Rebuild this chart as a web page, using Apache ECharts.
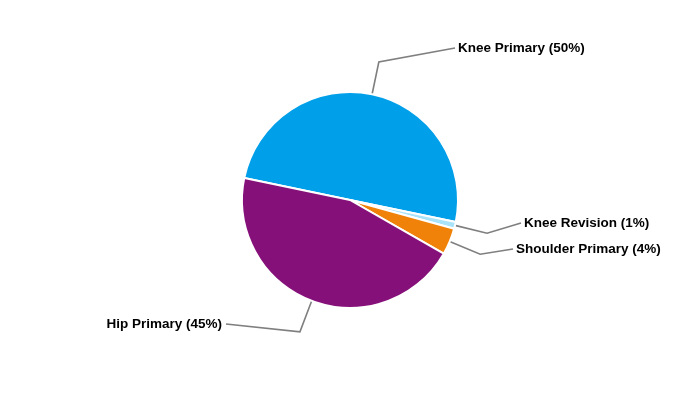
<!DOCTYPE html>
<html>
<head>
<meta charset="utf-8">
<script src="https://cdn.jsdelivr.net/npm/echarts@6/dist/echarts.min.js"></script>
<style>html,body{margin:0;padding:0;background:#fff;}#c{width:700px;height:400px;}</style>
</head>
<body>
<div id="c"></div>
<script>
const categories = ['Knee Primary', 'Knee Revision', 'Shoulder Primary', 'Hip Primary'];
const values = [50, 1, 4, 45];
const colors = ['#009FE9', '#A9E3F9', '#F08209', '#861079'];
// label anchor positions (layout only)
const labelPos = [
  {x: 458, y: 48, align: 'left'},
  {x: 524, y: 223, align: 'left'},
  {x: 516, y: 249, align: 'left'},
  {x: 222, y: 324, align: 'right'}
];

const CX = 350, CY = 200, R = 108, START = 168.2, BEND = 141;
const total = values.reduce((a, b) => a + b, 0);

function linePoints(i, lp) {
  let before = 0;
  for (let k = 0; k < i; k++) before += values[k];
  const mid = (START - (before + values[i] / 2) / total * 360) * Math.PI / 180;
  const c = Math.cos(mid), s = Math.sin(mid);
  const endX = lp.align === 'left' ? lp.x - 3 : lp.x + 4;
  return [
    [CX + R * c, CY - R * s],
    [CX + BEND * c, CY - BEND * s],
    [endX, lp.y]
  ];
}

const chart = echarts.init(document.getElementById('c'), null, {renderer: 'canvas'});
chart.setOption({
  animation: false,
  backgroundColor: '#fff',
  series: [{
    type: 'pie',
    center: [CX, CY],
    radius: [0, R],
    startAngle: START,
    clockwise: true,
    data: categories.map((n, i) => ({name: n, value: values[i], itemStyle: {color: colors[i]}})),
    itemStyle: {borderColor: '#fff', borderWidth: 2},
    label: {
      show: true,
      formatter: p => p.name + ' (' + p.value + '%)',
      color: '#000',
      fontFamily: 'Liberation Sans, Arial, sans-serif',
      fontWeight: 'bold',
      fontSize: 13.5
    },
    labelLine: {
      show: true,
      length: 33,
      length2: 30,
      lineStyle: {color: '#7f7f7f', width: 1.6}
    },
    labelLayout: p => {
      const lp = labelPos[p.dataIndex];
      return {x: lp.x, y: lp.y, align: lp.align, verticalAlign: 'middle',
              labelLinePoints: linePoints(p.dataIndex, lp)};
    }
  }]
});
</script>
</body>
</html>
